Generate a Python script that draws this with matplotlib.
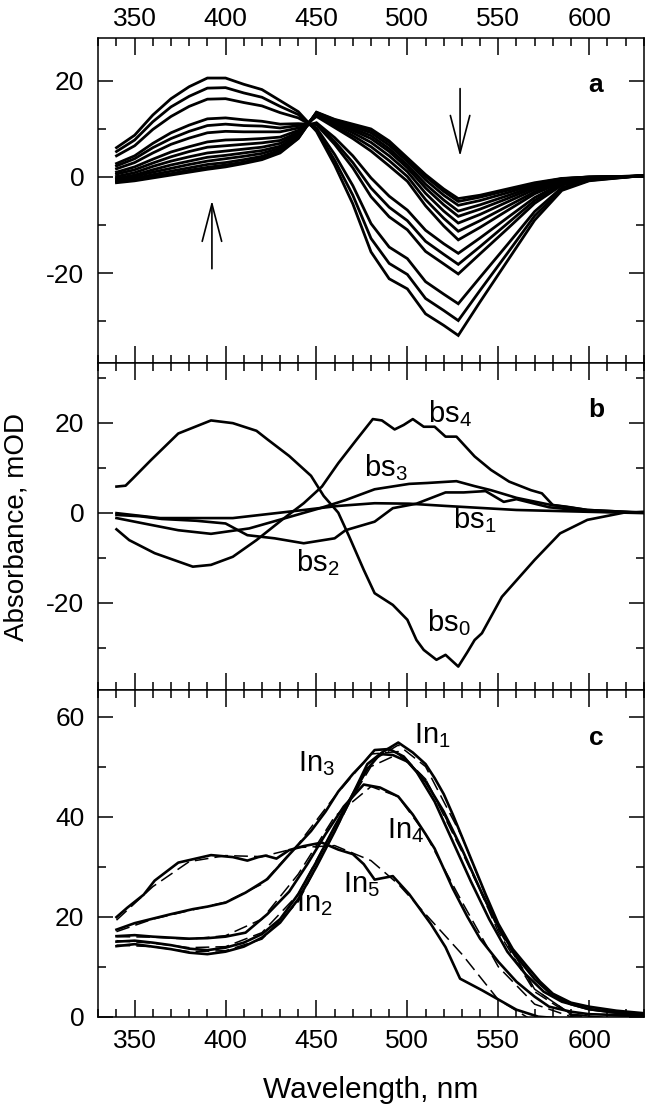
import matplotlib
matplotlib.use('Agg')
import matplotlib.pyplot as plt
from matplotlib.ticker import MultipleLocator

plt.rcParams['font.family'] = ['Liberation Sans', 'DejaVu Sans']
plt.rcParams['mathtext.default'] = 'regular'
plt.rcParams['axes.unicode_minus'] = False

# ---------------- Panel a: difference spectra (mOD) ----------------
wl_a = [340, 350, 360, 370, 380, 390, 400, 410, 420, 430, 440, 450, 460, 470,
        480, 490, 500, 510, 520, 528, 540, 555, 570, 585, 600, 630]
a_t01 = [6.1, 8.7, 12.9, 16.3, 18.8, 20.6, 20.6, 19.3, 18.2, 15.9, 13.6, 9.5, 2.5, -5.6,
         -15.6, -21.2, -23.3, -28.5, -30.9, -33.0, -26.0, -17.5, -9.0, -2.8, -0.8, 0.3]
a_t02 = [5.3, 7.7, 11.5, 14.6, 16.8, 18.5, 18.6, 17.5, 16.6, 14.7, 13.0, 9.8, 3.5, -3.8,
         -12.8, -18.0, -20.3, -25.3, -27.8, -29.9, -23.6, -15.9, -8.1, -2.5, -0.7, 0.3]
a_t03 = [4.4, 6.5, 9.9, 12.6, 14.7, 16.2, 16.3, 15.5, 14.8, 13.4, 12.3, 10.2, 4.7, -1.8,
         -9.7, -14.6, -17.0, -21.8, -24.4, -26.4, -20.9, -14.1, -7.2, -2.2, -0.6, 0.3]
a_t04 = [2.8, 4.4, 7.0, 9.2, 10.8, 12.1, 12.3, 11.9, 11.6, 11.0, 11.1, 10.9, 6.8, 1.9,
         -4.1, -8.3, -11.0, -15.5, -18.1, -20.2, -16.0, -10.8, -5.5, -1.7, -0.4, 0.3]
a_t05 = [2.3, 3.8, 6.1, 8.0, 9.5, 10.7, 11.0, 10.7, 10.6, 10.2, 10.7, 11.1, 7.4, 3.0,
         -2.3, -6.3, -9.1, -13.4, -16.1, -18.2, -14.5, -9.7, -4.9, -1.5, -0.4, 0.2]
a_t06 = [1.7, 3.0, 5.0, 6.8, 8.1, 9.2, 9.5, 9.4, 9.4, 9.4, 10.2, 11.3, 8.2, 4.4,
         -0.2, -4.0, -6.9, -11.1, -13.9, -15.9, -12.7, -8.5, -4.3, -1.3, -0.3, 0.2]
a_t07 = [1.0, 2.1, 3.7, 5.2, 6.3, 7.3, 7.7, 7.8, 8.0, 8.3, 9.7, 12.6, 10.3, 8.0,
         5.4, 2.3, -0.9, -6.0, -10.2, -13.1, -10.5, -7.0, -3.5, -1.1, -0.2, 0.2]
a_t08 = [0.6, 1.5, 2.9, 4.2, 5.3, 6.2, 6.5, 6.8, 7.1, 7.6, 9.3, 12.8, 10.6, 8.6,
         6.3, 3.4, 0.1, -4.7, -8.6, -11.3, -9.1, -6.1, -3.1, -0.9, -0.2, 0.2]
a_t09 = [0.1, 0.9, 2.2, 3.3, 4.2, 5.0, 5.4, 5.8, 6.2, 7.0, 9.0, 13.0, 11.0, 9.2,
         7.2, 4.4, 1.1, -3.4, -7.1, -9.6, -7.8, -5.2, -2.6, -0.8, -0.1, 0.2]
a_t10 = [-0.3, 0.4, 1.5, 2.5, 3.3, 4.1, 4.5, 5.0, 5.5, 6.4, 8.7, 13.1, 11.3, 9.7,
         8.0, 5.3, 1.9, -2.3, -5.8, -8.2, -6.7, -4.5, -2.2, -0.6, -0.1, 0.2]
a_t11 = [-0.5, 0.1, 1.0, 1.8, 2.6, 3.3, 3.8, 4.3, 4.9, 6.0, 8.5, 13.2, 11.5, 10.1,
         8.6, 5.9, 2.5, -1.5, -4.8, -7.1, -5.8, -3.9, -1.9, -0.5, -0.1, 0.2]
a_t12 = [-0.8, -0.3, 0.5, 1.2, 1.9, 2.6, 3.0, 3.6, 4.3, 5.6, 8.3, 13.4, 11.7, 10.5,
         9.2, 6.6, 3.2, -0.6, -3.8, -5.9, -4.9, -3.3, -1.6, -0.4, 0.0, 0.2]
a_t13 = [-1.05, -0.6, 0.1, 0.7, 1.4, 2.0, 2.5, 3.1, 3.9, 5.2, 8.1, 13.4, 11.9, 10.8,
         9.7, 7.2, 3.7, 0.1, -3.0, -5.1, -4.2, -2.8, -1.4, -0.35, 0.0, 0.2]
a_t14 = [-1.2, -0.8, -0.2, 0.4, 1.0, 1.6, 2.1, 2.8, 3.6, 5.0, 8.0, 13.5, 12.0, 11.0,
         10.0, 7.5, 4.0, 0.5, -2.5, -4.5, -3.8, -2.5, -1.2, -0.3, 0.0, 0.2]
spectra_a = [a_t01, a_t02, a_t03, a_t04, a_t05, a_t06, a_t07,
             a_t08, a_t09, a_t10, a_t11, a_t12, a_t13, a_t14]

# arrows (wavelength, from, to)
arrow_up = (392.5, -19.1, -4.9)
arrow_down = (529.0, 18.4, 4.3)

# ---------------- Panel b: basis spectra ----------------
bs0_x = [340, 345, 349, 359, 374, 392, 404, 417, 423, 435, 447, 454, 462, 468, 476, 482,
         492, 500, 505, 509, 516, 521, 528, 533, 537, 541, 552, 570, 584, 599, 619, 630]
bs0_y = [5.8, 6.0, 7.6, 11.7, 17.6, 20.5, 19.9, 18.2, 16.3, 12.6, 8.2, 3.7, 0.0, -5.3, -12.7, -17.9,
         -20.5, -23.8, -28.3, -30.5, -32.7, -31.6, -34.2, -31.0, -28.3, -26.8, -18.7, -10.5, -4.6, -1.6, 0.0, 0.2]
bs1_x = [340, 364, 404, 443, 462, 482, 501, 521, 560, 599, 630]
bs1_y = [-0.1, -1.2, -1.2, 0.6, 1.5, 2.1, 2.0, 1.5, 0.6, 0.2, -0.1]
bs2_x = [340, 353, 365, 384, 400, 412, 427, 443, 460, 466, 482, 492, 505, 521, 531, 543,
         553, 560, 578, 600, 630]
bs2_y = [-0.5, -0.8, -1.4, -1.8, -2.4, -5.0, -5.7, -6.8, -5.7, -3.9, -2.0, 1.0, 2.0, 4.5, 4.5, 4.8,
         2.4, 3.0, 1.2, 0.3, 0.0]
bs3_x = [340, 355, 374, 392, 413, 433, 452, 466, 482, 501, 511, 527, 537, 546, 560, 578, 599, 630]
bs3_y = [-1.2, -2.4, -3.9, -4.7, -3.5, -1.2, 1.0, 2.8, 5.2, 6.4, 6.6, 7.0, 5.9, 5.0, 3.3, 1.8, 0.6, 0.0]
bs4_x = [340, 347, 361, 382, 392, 404, 417, 431, 443, 453, 462, 472, 481, 486, 493, 498,
         503, 509, 515, 521, 527, 537, 546, 556, 568, 574, 580, 588, 599, 619, 630]
bs4_y = [-3.7, -6.1, -9.0, -12.0, -11.6, -9.8, -6.1, -1.6, 2.1, 5.8, 11.0, 16.2, 20.8, 20.5, 18.5, 19.5,
         20.8, 19.1, 19.1, 16.9, 16.9, 12.5, 9.5, 6.9, 5.0, 4.3, 1.7, 1.3, 0.6, 0.2, 0.0]
bs_labels = ['bs$_0$', 'bs$_1$', 'bs$_2$', 'bs$_3$', 'bs$_4$']
bs_label_pos = [(510.8, -26.4), (524.9, -3.5), (438.8, -12.9), (476.0, 8.0), (511.2, 20.2)]

# ---------------- Panel c: intermediate spectra ----------------
In1_x = [340, 350, 360, 370, 380, 390, 400, 410, 420, 430, 440, 450, 460, 470, 478, 486, 495,
         503, 510, 515, 520, 525, 530, 537, 543, 550, 558, 566, 573, 580, 590, 600, 615, 630]
In1_y = [14.1, 14.5, 14.0, 13.5, 12.8, 12.5, 13.0, 14.0, 15.8, 18.8, 23.5, 30.0, 37.0, 44.5, 50.5, 52.8, 54.8,
         52.8, 50.5, 47.7, 44.5, 40.4, 36.0, 29.8, 24.5, 18.6, 13.5, 10.0, 7.0, 4.6, 2.8, 2.0, 1.2, 0.7]
In2_x = [340, 350, 360, 370, 380, 390, 400, 410, 420, 430, 440, 450, 460, 470, 478, 485, 492,
         500, 510, 520, 530, 540, 550, 560, 570, 580, 590, 600, 615, 630]
In2_y = [15.0, 15.2, 14.8, 14.3, 13.6, 13.3, 13.8, 14.8, 16.5, 19.5, 24.5, 31.0, 38.0, 44.5, 49.5, 52.5, 52.3,
         51.0, 47.0, 41.0, 33.5, 25.5, 18.0, 12.0, 7.5, 4.2, 2.5, 1.5, 0.8, 0.5]
In3_x = [340, 350, 360, 370, 382, 390, 400, 411, 423, 435, 447, 455, 462, 470, 476, 482, 490,
         498, 505, 515, 525, 535, 545, 555, 565, 575, 585, 600, 615, 630]
In3_y = [17.4, 18.7, 19.6, 20.5, 21.5, 22.0, 22.8, 24.8, 27.5, 32.4, 37.1, 41.0, 45.0, 48.5, 50.8, 53.3, 53.5,
         52.0, 49.0, 43.0, 35.0, 27.0, 19.5, 13.0, 8.5, 5.0, 3.0, 1.5, 0.8, 0.5]
In4_x = [340, 350, 360, 370, 380, 390, 400, 411, 423, 435, 445, 455, 465, 476, 485, 495, 503,
         510, 515, 525, 533, 540, 550, 560, 570, 578, 590, 600, 630]
In4_y = [16.1, 16.3, 16.0, 15.8, 15.6, 15.7, 16.0, 16.8, 20.5, 25.0, 30.5, 36.5, 42.0, 46.4, 45.8, 44.0, 40.4,
         36.5, 33.6, 25.6, 20.0, 15.6, 11.0, 7.0, 4.0, 2.0, 1.0, 0.5, 0.2]
In5_x = [340, 346, 355, 361, 374, 392, 404, 412, 418, 422, 428, 435, 443, 453, 462, 470, 476,
         482, 492, 501, 513, 521, 529, 541, 560, 572, 590, 630]
In5_y = [19.9, 21.8, 24.4, 27.2, 30.8, 32.3, 31.9, 31.2, 31.9, 32.2, 31.6, 33.3, 34.1, 34.8, 33.4, 32.5, 30.5,
         27.4, 28.1, 24.5, 18.5, 13.9, 7.6, 5.3, 1.4, 0.0, -0.5, 0.0]

fit_x = [340, 360, 380, 400, 420, 440, 460, 480, 495, 510, 530, 550, 570, 590, 630]
In1_fit = [14.3, 14.0, 13.0, 13.2, 15.5, 23.0, 37.0, 51.0, 54.3, 50.0, 36.0, 18.0, 5.5, 0.5, -1.0]
In2_fit = [15.2, 14.7, 13.8, 14.0, 16.8, 24.5, 38.0, 50.0, 52.5, 47.5, 33.5, 17.0, 5.0, 0.3, -1.0]
In3_fit = [17.0, 19.5, 21.2, 22.9, 26.5, 34.5, 44.0, 52.5, 53.0, 47.5, 33.0, 17.5, 5.5, 0.5, -1.0]
In4_fit = [16.0, 15.9, 15.5, 16.2, 19.5, 28.5, 40.0, 46.0, 44.0, 36.5, 23.0, 10.0, 2.5, 0.0, -1.0]
In5_fit = [19.3, 26.0, 31.0, 32.2, 32.0, 33.8, 34.2, 31.2, 26.5, 20.5, 12.5, 3.4, -1.0, -1.0, -1.0]
In_labels = ['In$_1$', 'In$_2$', 'In$_3$', 'In$_4$', 'In$_5$']
In_label_pos = [(503.4, 54.7), (438.5, 21.1), (439.8, 49.0), (488.7, 35.7), (464.7, 24.9)]

xticks_major = [350, 400, 450, 500, 550, 600]

# ---------------- Figure ----------------
W, H = 647, 1111
fig = plt.figure(figsize=(W / 100, H / 100), dpi=100)
left_px, right_px = 98.3, 643.7
bounds = [(37.7, 363.3), (363.3, 689.5), (689.5, 1016.7)]
axes = []
for top, bot in bounds:
    axes.append(fig.add_axes([left_px / W, 1 - bot / H, (right_px - left_px) / W, (bot - top) / H]))
ax_a, ax_b, ax_c = axes


def style(ax, ylim, labeltop, labelbottom, xpad):
    ax.set_xlim(330, 630)
    ax.set_ylim(*ylim)
    ax.set_xticks(xticks_major)
    ax.xaxis.set_minor_locator(MultipleLocator(10))
    ax.yaxis.set_major_locator(MultipleLocator(20))
    ax.yaxis.set_minor_locator(MultipleLocator(10))
    ax.tick_params(which='both', direction='in', top=True, right=True, width=1.1, colors='black')
    ax.tick_params(axis='x', which='major', length=12, labelsize=19, pad=xpad,
                   labeltop=labeltop, labelbottom=labelbottom)
    ax.tick_params(axis='x', which='minor', length=6)
    ax.tick_params(axis='y', which='major', length=10.8, labelsize=19, pad=10)
    ax.tick_params(axis='y', which='minor', length=5.8)
    for s in ax.spines.values():
        s.set_linewidth(1.1)


style(ax_a, (-38.8, 29.0), True, False, 5)
style(ax_b, (-39.3, 33.2), False, False, 8)
style(ax_c, (0, 65.4), False, True, 9)

# panel a
for sp in spectra_a:
    ax_a.plot(wl_a, sp, color='black', lw=2.0, solid_joinstyle='miter')
for (x0, y0, y1) in (arrow_up, arrow_down):
    ax_a.annotate('', xy=(x0, y1), xytext=(x0, y0),
                  arrowprops=dict(arrowstyle='->,head_length=2.7,head_width=0.7',
                                  lw=1.2, color='black', shrinkA=0, shrinkB=0,
                                  mutation_scale=10))
ax_a.text(0.9125, 0.834, 'a', transform=ax_a.transAxes, ha='center', va='baseline',
          fontsize=19, fontweight='bold')

# panel b
for xs, ys in [(bs0_x, bs0_y), (bs1_x, bs1_y), (bs2_x, bs2_y), (bs3_x, bs3_y), (bs4_x, bs4_y)]:
    ax_b.plot(xs, ys, color='black', lw=1.9)
for lab, (x, y) in zip(bs_labels, bs_label_pos):
    ax_b.text(x, y, lab, ha='left', va='baseline', fontsize=21)
ax_b.text(0.9125, 0.834, 'b', transform=ax_b.transAxes, ha='center', va='baseline',
          fontsize=19, fontweight='bold')

# panel c
for xs, ys in [(In1_x, In1_y), (In2_x, In2_y), (In3_x, In3_y), (In4_x, In4_y), (In5_x, In5_y)]:
    ax_c.plot(xs, ys, color='black', lw=1.9)
for ys in [In1_fit, In2_fit, In3_fit, In4_fit, In5_fit]:
    ax_c.plot(fit_x, ys, color='black', lw=1.1, dashes=(9, 4))
for lab, (x, y) in zip(In_labels, In_label_pos):
    ax_c.text(x, y, lab, ha='left', va='baseline', fontsize=21)
ax_c.text(0.9125, 0.830, 'c', transform=ax_c.transAxes, ha='center', va='baseline',
          fontsize=19, fontweight='bold')

fig.text(16.7 / W, 1 - 527 / H, 'Absorbance, mOD', rotation=90, ha='center', va='center', fontsize=20)
fig.text(371 / W, 1 - 1090 / H, 'Wavelength, nm', ha='center', va='center', fontsize=21.5)

fig.savefig('out.png', dpi=100)
